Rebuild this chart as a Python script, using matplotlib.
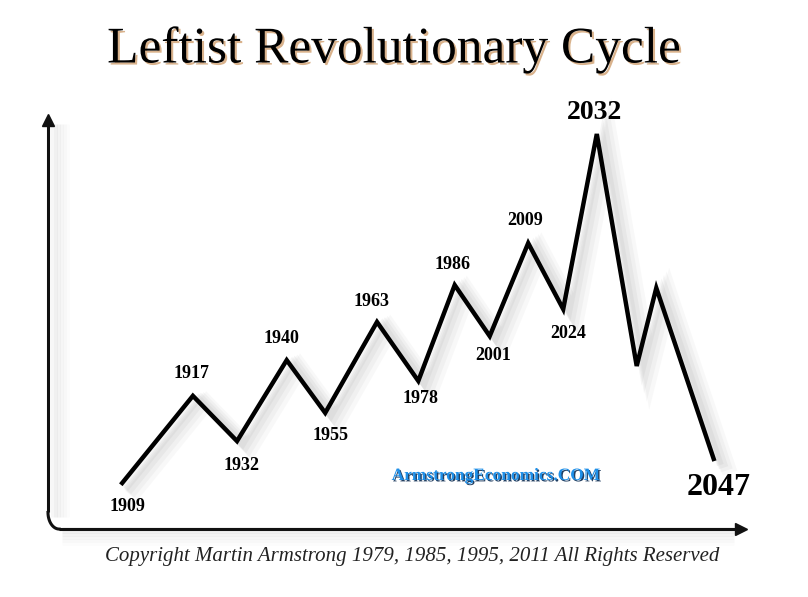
import matplotlib
matplotlib.use("Agg")

import numpy as np
import matplotlib.pyplot as plt
import matplotlib.patheffects as pe

# schematic cycle: x position and level (0-100 axis units)
years = ["1909", "1917", "1932", "1940", "1955", "1963", "1978", "1986",
         "2001", "2009", "2024", "2032", "", "", "2047"]
x_pos = [10.6, 20.7, 27.0, 34.1, 39.6, 47.0, 52.9, 58.1,
         63.1, 68.6, 73.6, 78.4, 84.1, 86.9, 95.1]
level = [10.6, 31.6, 20.7, 40.2, 27.5, 49.4, 35.2, 58.3,
         46.0, 68.4, 52.5, 94.7, 38.8, 57.6, 16.4]

# label offsets in pixels from the vertex
label_dx = [5, -1, 5, -5, 5, -5, 2, -2, 3, -3, 5, -2, 0, 0, 5]
label_dy = [-23, 22, -24, 22, -23, 20, -18, 21, -19, 23, -24, 21, 0, 0, -29]

title = "Leftist Revolutionary Cycle"
watermark = "ArmstrongEconomics.COM"
copyright_text = "Copyright Martin Armstrong 1979, 1985, 1995, 2011 All Rights Reserved"

SERIF = ["Liberation Serif", "DejaVu Serif"]

fig = plt.figure(figsize=(8.08, 5.97), dpi=100)
fig.patch.set_facecolor("white")

ax = fig.add_axes([48 / 808, (597 - 527) / 597, 700 / 808, 415 / 597])
ax.set_xlim(0, 100)
ax.set_ylim(0, 100)
ax.axis("off")

# soft shadow of the axes frame
for i, a in enumerate([0.06, 0.05, 0.04, 0.03, 0.02]):
    off = 3 + i * 3
    ax.plot([0.4 + off / 7, 0.4 + off / 7], [2.5, 97], color="gray",
            lw=5, alpha=a, clip_on=False, solid_capstyle="butt")
    ax.plot([2.0, 98], [-off / 4.15, -off / 4.15], color="gray",
            lw=5, alpha=a, clip_on=False, solid_capstyle="butt")

# axes with arrows and rounded corner
ax.plot([0, 0], [3.5, 97.5], color="#111111", lw=2.2, clip_on=False,
        solid_capstyle="butt")
ax.plot([1.6, 98.5], [-0.5, -0.5], color="#111111", lw=2.2, clip_on=False,
        solid_capstyle="butt")
t = np.linspace(np.pi, 1.5 * np.pi, 20)
ax.plot(1.6 + 1.6 * np.cos(t), 3.5 + 4.0 * np.sin(t), color="#111111",
        lw=2.2, clip_on=False)
ax.plot([0], [98], marker="^", ms=9, color="#111111", clip_on=False)
ax.plot([99], [-0.5], marker=">", ms=9, color="#111111", clip_on=False)

# the zigzag with a soft shadow
shadow = [
    pe.SimpleLineShadow(offset=(10, -5), shadow_color="gray", alpha=0.05, linewidth=11),
    pe.SimpleLineShadow(offset=(8, -4), shadow_color="gray", alpha=0.06, linewidth=9),
    pe.SimpleLineShadow(offset=(6, -3), shadow_color="gray", alpha=0.08, linewidth=7),
    pe.SimpleLineShadow(offset=(4, -2), shadow_color="gray", alpha=0.08, linewidth=5),
    pe.Normal(),
]
ax.plot(x_pos, level, color="black", lw=3.2, solid_joinstyle="miter",
        path_effects=shadow, clip_on=False)

label_size = {"2032": 20, "2047": 23}
for yr, x, y, dx, dy in zip(years, x_pos, level, label_dx, label_dy):
    if not yr:
        continue
    ax.annotate(yr, (x, y), xytext=(dx, dy), textcoords="offset pixels",
                ha="center", va="center", family=SERIF, fontweight="bold",
                fontsize=label_size.get(yr, 13), color="black")

# title with a slight shadow
fig.text(394 / 808, 1 - 50 / 597, title, ha="center", va="center", family=SERIF,
         fontsize=37, color="black",
         path_effects=[pe.withSimplePatchShadow(offset=(1.5, -1.5),
                                                shadow_rgbFace="#c08040", alpha=0.6)])

fig.text(496 / 808, 1 - 476 / 597, watermark, ha="center", va="center",
         family=SERIF, fontweight="bold", fontsize=12.5, color="#1e8fe8",
         path_effects=[pe.withSimplePatchShadow(offset=(1, -1),
                                                shadow_rgbFace="#0a2a50", alpha=0.9)])

fig.text(412 / 808, 1 - 557 / 597, copyright_text, ha="center", va="center",
         family=SERIF, style="italic", fontsize=15, color="#222222")

fig.savefig("out.png", dpi=100, facecolor="white")
